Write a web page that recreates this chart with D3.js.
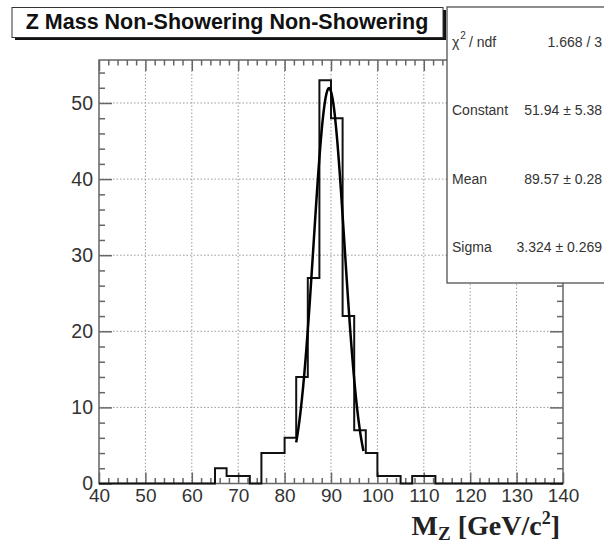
<!DOCTYPE html>
<html>
<head>
<meta charset="utf-8">
<script src="https://cdn.jsdelivr.net/npm/d3@7"></script>
<style>
  html, body { margin: 0; padding: 0; background: #fff; }
  svg { display: block; }
</style>
</head>
<body>
<svg id="chart" width="604" height="545"></svg>
<script>
// ---- data ----
const title = "Z Mass Non-Showering Non-Showering";
const binLow = [40, 42.5, 45, 47.5, 50, 52.5, 55, 57.5, 60, 62.5,
                65, 67.5, 70, 72.5, 75, 77.5, 80, 82.5, 85, 87.5,
                90, 92.5, 95, 97.5, 100, 102.5, 105, 107.5, 110, 112.5,
                115, 117.5, 120, 122.5, 125, 127.5, 130, 132.5, 135, 137.5];
const binWidth = 2.5;
const counts = [0, 0, 0, 0, 0, 0, 0, 0, 0, 0,
                2, 1, 1, 0, 4, 4, 6, 14, 27, 53,
                48, 22, 7, 4, 1, 1, 0, 1, 1, 0,
                0, 0, 0, 0, 0, 0, 0, 0, 0, 0];
const xMajorTicks = [40, 50, 60, 70, 80, 90, 100, 110, 120, 130, 140];
const yMajorTicks = [0, 10, 20, 30, 40, 50];
const fitConstant = 51.94, fitMean = 89.57, fitSigma = 3.324;
const fitRange = [82.5, 97.0];
const statsLabels = ["χ2 / ndf", "Constant", "Mean", "Sigma"];
const statsValues = ["1.668 / 3", "51.94 ± 5.38", "89.57 ± 0.28", "3.324 ± 0.269"];

// ---- layout ----
const svg = d3.select("#chart");
const L = 99, R = 563, T = 60, B = 483.5;
const x = d3.scaleLinear().domain([40, 140]).range([L, R]);
const y = d3.scaleLinear().domain([0, 55.65]).range([B, T]);

const xMinor = d3.range(40, 140.01, 2).filter(v => !xMajorTicks.includes(v));
const yMinor = d3.range(0, 55, 2).filter(v => !yMajorTicks.includes(v));

const axisColor = "#666";

// grid
const grid = svg.append("g").attr("stroke", "#9a9a9a").attr("stroke-width", 1)
  .attr("stroke-dasharray", "1.5,2");
xMajorTicks.filter(v => v > 40 && v < 140).forEach(v => {
  grid.append("line").attr("x1", x(v)).attr("x2", x(v)).attr("y1", T).attr("y2", B);
});
yMajorTicks.filter(v => v > 0).forEach(v => {
  grid.append("line").attr("x1", L).attr("x2", R).attr("y1", y(v)).attr("y2", y(v));
});

// frame
svg.append("rect").attr("x", L).attr("y", T).attr("width", R - L).attr("height", B - T)
  .attr("fill", "none").attr("stroke", axisColor).attr("stroke-width", 1.5);

function styleAxis(size) {
  return g => {
    g.select(".domain").remove();
    g.selectAll(".tick line").attr("stroke", axisColor).attr("stroke-width", 1.5);
    g.selectAll("text").attr("fill", "#333").attr("font-family", "Liberation Sans, Arial, sans-serif")
      .attr("font-size", size);
  };
}

// bottom axis
svg.append("g").attr("transform", `translate(0,${B})`)
  .call(d3.axisBottom(x).tickValues(xMajorTicks).tickSize(-11).tickSizeOuter(0).tickPadding(5)
        .tickFormat(d3.format("d")))
  .call(styleAxis(19));
svg.append("g").attr("transform", `translate(0,${B})`)
  .call(d3.axisBottom(x).tickValues(xMinor).tickSize(-5.5).tickSizeOuter(0).tickFormat(""))
  .call(styleAxis(19));
// top axis
svg.append("g").attr("transform", `translate(0,${T})`)
  .call(d3.axisTop(x).tickValues(xMajorTicks).tickSize(-11).tickSizeOuter(0).tickFormat(""))
  .call(styleAxis(19));
svg.append("g").attr("transform", `translate(0,${T})`)
  .call(d3.axisTop(x).tickValues(xMinor).tickSize(-5.5).tickSizeOuter(0).tickFormat(""))
  .call(styleAxis(19));
// left axis
svg.append("g").attr("transform", `translate(${L},0)`)
  .call(d3.axisLeft(y).tickValues(yMajorTicks).tickSize(-13).tickSizeOuter(0).tickPadding(6)
        .tickFormat(d3.format("d")))
  .call(styleAxis(19.5));
svg.append("g").attr("transform", `translate(${L},0)`)
  .call(d3.axisLeft(y).tickValues(yMinor).tickSize(-6).tickSizeOuter(0).tickFormat(""))
  .call(styleAxis(19.5));
// right axis
svg.append("g").attr("transform", `translate(${R},0)`)
  .call(d3.axisRight(y).tickValues(yMajorTicks).tickSize(-13).tickSizeOuter(0).tickFormat(""))
  .call(styleAxis(19));
svg.append("g").attr("transform", `translate(${R},0)`)
  .call(d3.axisRight(y).tickValues(yMinor).tickSize(-6).tickSizeOuter(0).tickFormat(""))
  .call(styleAxis(19));

// histogram (step outline)
const pts = [];
binLow.forEach((lo, i) => {
  pts.push([x(lo), y(counts[i])]);
  pts.push([x(lo + binWidth), y(counts[i])]);
});
svg.append("path")
  .attr("d", d3.line()([[x(binLow[0]), y(0)], ...pts, [x(binLow[binLow.length - 1] + binWidth), y(0)]]))
  .attr("fill", "none").attr("stroke", "#111").attr("stroke-width", 2);

// fit function
const fitXs = d3.range(fitRange[0], fitRange[1] + 0.001, (fitRange[1] - fitRange[0]) / 100);
const gauss = v => fitConstant * Math.exp(-0.5 * Math.pow((v - fitMean) / fitSigma, 2));
svg.append("path")
  .attr("d", d3.line().x(v => x(v)).y(v => y(gauss(v)))(fitXs))
  .attr("fill", "none").attr("stroke", "#000").attr("stroke-width", 2.5);

// x axis title
const xt = svg.append("text").attr("x", 560).attr("y", 535).attr("text-anchor", "end")
  .attr("font-family", "Liberation Serif, Times New Roman, serif").attr("font-weight", "bold")
  .attr("font-size", 28).attr("fill", "#222");
xt.append("tspan").text("M");
xt.append("tspan").attr("font-size", 19).attr("dy", 5).text("Z");
xt.append("tspan").attr("dy", -5).text(" [GeV/c");
xt.append("tspan").attr("font-size", 18).attr("dy", -11).text("2");
xt.append("tspan").attr("dy", 11).text("]");

// title box
svg.append("rect").attr("x", 15).attr("y", 10).attr("width", 431).attr("height", 30).attr("fill", "#111");
svg.append("rect").attr("x", 12).attr("y", 7.5).attr("width", 431).attr("height", 30)
  .attr("fill", "#fff").attr("stroke", "#333").attr("stroke-width", 1);
svg.append("text").attr("x", 227).attr("y", 28.5).attr("text-anchor", "middle")
  .attr("font-family", "Liberation Sans, Arial, sans-serif").attr("font-weight", "bold")
  .attr("font-size", 21.5).attr("fill", "#111").text(title);

// stats box
svg.append("rect").attr("x", 447).attr("y", 7).attr("width", 200).attr("height", 276)
  .attr("fill", "#fff").attr("stroke", "#444").attr("stroke-width", 1.2);
const statBase = [47, 115, 184, 252];
statsLabels.forEach((lab, i) => {
  const t = svg.append("text").attr("x", 452).attr("y", statBase[i])
    .attr("font-family", "Liberation Sans, Arial, sans-serif").attr("font-size", 14).attr("fill", "#333");
  if (i === 0) {
    t.append("tspan").text("χ");
    t.append("tspan").attr("font-size", 10).attr("dy", -8).attr("dx", 1).text("2");
    t.append("tspan").attr("dy", 8).attr("dx", 3).text("/ ndf");
  } else {
    t.text(lab);
  }
  svg.append("text").attr("x", 602).attr("y", statBase[i]).attr("text-anchor", "end")
    .attr("font-family", "Liberation Sans, Arial, sans-serif").attr("font-size", 14).attr("fill", "#333")
    .text(statsValues[i]);
});
</script>
</body>
</html>
